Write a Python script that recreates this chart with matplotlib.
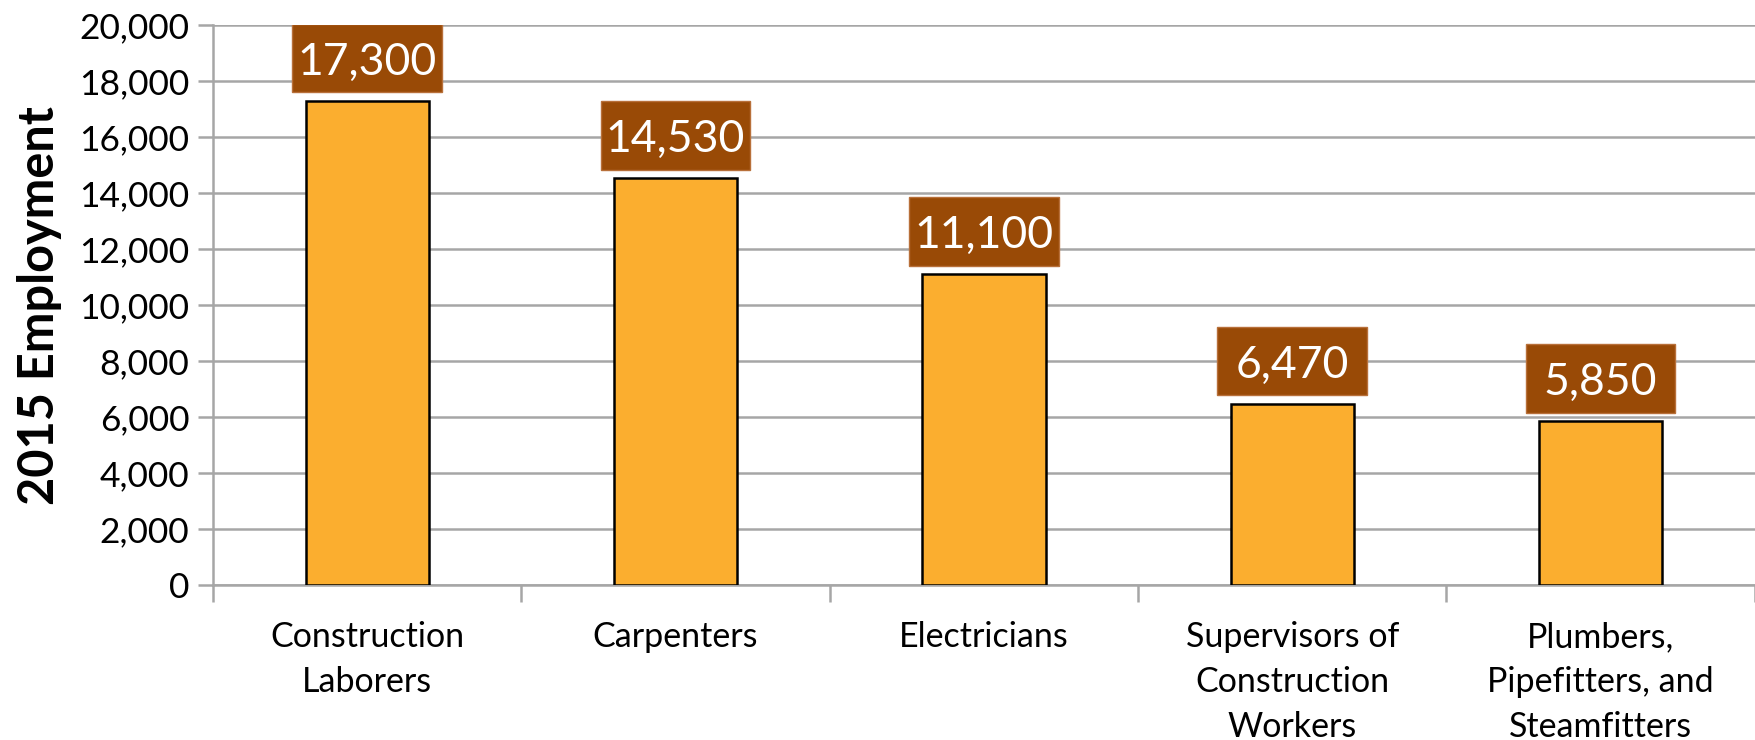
import matplotlib.pyplot as plt
from matplotlib.ticker import FuncFormatter, FixedLocator

categories = ['Construction\nLaborers', 'Carpenters', 'Electricians',
              'Supervisors of\nConstruction\nWorkers',
              'Plumbers,\nPipefitters, and\nSteamfitters']
employment = [17300, 14530, 11100, 6470, 5850]

plt.rcParams['font.family'] = ['Lato', 'DejaVu Sans']

fig = plt.figure(figsize=(17.56, 7.40), dpi=100)
ax = fig.add_axes([0.1213, 0.2095, 0.878, 0.7565])

x = list(range(len(categories)))
ax.bar(x, employment, width=0.4, color='#FBAE2F', edgecolor='black',
       linewidth=1.8, zorder=3)

# value labels sit in brown boxes just above each bar
gap, box_h = 300, 2450
ax.bar(x, [box_h] * len(x), bottom=[v + gap for v in employment], width=0.485,
       color='#994A06', edgecolor='#B8703A', linewidth=1, zorder=4)
for xi, v in zip(x, employment):
    ax.text(xi, v + gap + box_h / 2, f'{v:,}', ha='center', va='center_baseline',
            fontsize=32, color='white', zorder=5)

ax.set_xlim(-0.5, len(categories) - 0.5)
ax.set_ylim(0, 20000)
ax.set_yticks(range(0, 20001, 2000))
ax.yaxis.set_major_formatter(FuncFormatter(lambda v, p: f'{int(v):,}'))
ax.grid(axis='y', color='#A6A6A6', linewidth=1.8, zorder=0)

ax.set_xticks(x)
ax.set_xticklabels(categories, fontsize=24.5, linespacing=1.5)
ax.tick_params(axis='x', length=0, pad=26)
ax.xaxis.set_minor_locator(FixedLocator([i - 0.5 for i in range(len(categories) + 1)]))
ax.tick_params(axis='x', which='minor', length=12, width=1.8, color='#A6A6A6')
ax.tick_params(axis='y', labelsize=25.5, length=11, width=1.8, color='#A6A6A6', pad=6)

for s in ['top', 'right']:
    ax.spines[s].set_visible(False)
ax.spines['left'].set_color('#A6A6A6')
ax.spines['left'].set_linewidth(1.8)
ax.spines['bottom'].set_color('#A6A6A6')
ax.spines['bottom'].set_linewidth(1.8)

ax.set_ylabel('2015 Employment', fontsize=35, fontweight='bold', labelpad=12)

fig.savefig('out.png', dpi=100)
